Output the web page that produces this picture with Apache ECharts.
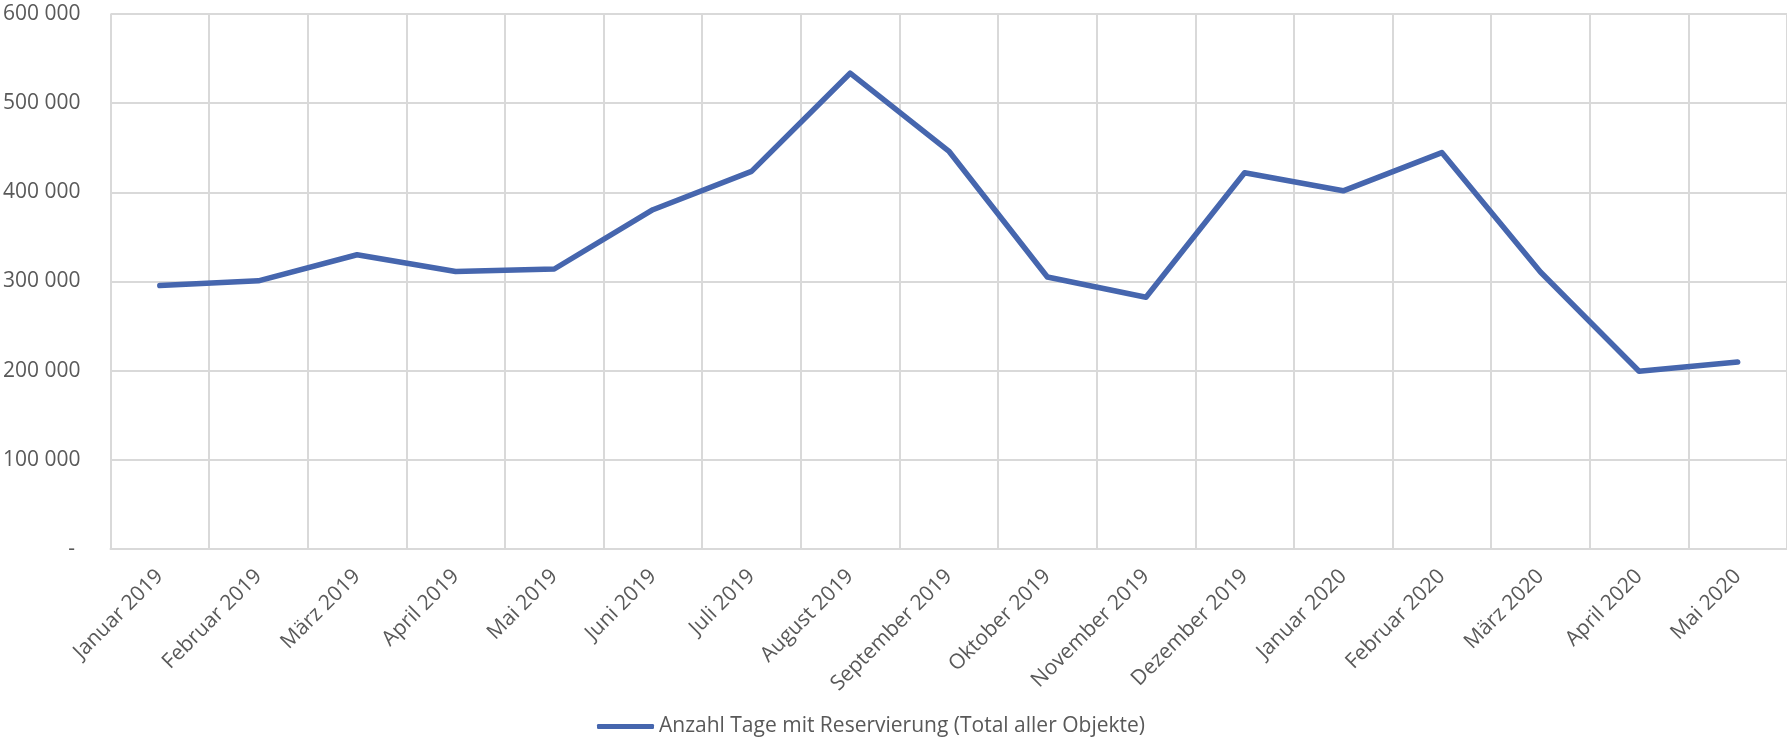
<!DOCTYPE html>
<html>
<head>
<meta charset="utf-8">
<script src="https://cdn.jsdelivr.net/npm/echarts@6/dist/echarts.min.js"></script>
<style>
html,body{margin:0;padding:0;background:#fff;}
#chart{width:1787px;height:742px;}
</style>
</head>
<body>
<div id="chart"></div>
<script>
const categories = ['Januar 2019','Februar 2019','März 2019','April 2019','Mai 2019','Juni 2019','Juli 2019','August 2019','September 2019','Oktober 2019','November 2019','Dezember 2019','Januar 2020','Februar 2020','März 2020','April 2020','Mai 2020'];
const seriesName = 'Anzahl Tage mit Reservierung (Total aller Objekte)';
const values = [295500, 300800, 330000, 311200, 314000, 380500, 423500, 533600, 446300, 305000, 282300, 422000, 401700, 444600, 310600, 199300, 209700];
const yTicks = [0, 100000, 200000, 300000, 400000, 500000, 600000];

const FONT = 'Open Sans';
const TXT = '#595959';
const GRID = '#D9D9D9';

function fmt(v){
  if (v === 0) return '- ';
  return String(v).replace(/\B(?=(\d{3})+(?!\d))/g, ' ');
}

const chart = echarts.init(document.getElementById('chart'), null, {renderer:'canvas'});
chart.setOption({
  animation:false,
  backgroundColor:'#ffffff',
  grid:{left:110, right:-8, top:14, bottom:193, containLabel:false},
  legend:{
    data:[seriesName],
    left:592, top:711,
    icon:'roundRect', itemWidth:57, itemHeight:5,
    textStyle:{fontFamily:FONT, fontSize:21, color:TXT}
  },
  xAxis:{
    type:'category',
    data:categories,
    boundaryGap:true,
    axisLine:{show:true, lineStyle:{color:GRID, width:2}},
    axisTick:{show:false},
    splitLine:{show:true, lineStyle:{color:GRID, width:2}},
    axisLabel:{rotate:45, margin:24, interval:0, fontFamily:FONT, fontSize:21, color:TXT}
  },
  yAxis:{
    type:'value',
    min:yTicks[0], max:yTicks[yTicks.length-1], interval:100000,
    axisLine:{show:false},
    axisTick:{show:false},
    splitLine:{show:true, lineStyle:{color:GRID, width:2}},
    axisLabel:{margin:30, fontFamily:FONT, fontSize:21, color:TXT, formatter:fmt}
  },
  series:[{
    name:seriesName,
    type:'line',
    data:values,
    symbol:'none',
    lineStyle:{color:'#4666AE', width:5.5, cap:'round', join:'round'},
    itemStyle:{color:'#4666AE'}
  }]
});
</script>
</body>
</html>
